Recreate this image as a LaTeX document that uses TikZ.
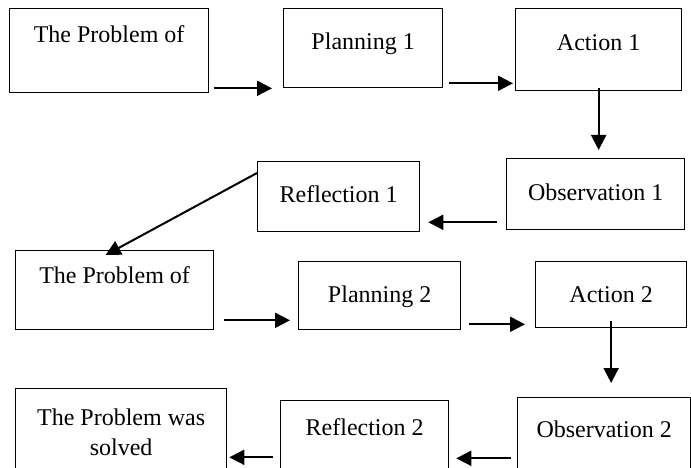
\documentclass[tikz,border=0pt]{standalone}
\usepackage{fontspec}
\setmainfont{Liberation Serif}
\usetikzlibrary{arrows.meta}

\begin{document}
\begin{tikzpicture}
  [x=1pt,y=-1pt,
   every node/.style={font=\fontsize{24}{30}\selectfont},
   stage/.style={draw,rectangle,line width=1.3pt,inner sep=0pt,anchor=north west},
   arr/.style={line width=2pt,-{Triangle[length=15pt,width=15pt]}}]
  \useasboundingbox (0,0) rectangle (691,468);
  % first cycle
  \node[stage,minimum width=199pt,text height=34pt,text depth=50pt] (prob1) at (9,8) {The Problem of};
  \node[stage,minimum width=159pt,text height=41pt,text depth=38pt] (plan1) at (283,8) {Planning 1};
  \node[stage,minimum width=166pt,text height=42pt,text depth=40pt] (act1) at (515,8) {Action 1};
  \node[stage,minimum width=178pt,text height=42pt,text depth=29pt] (obs1) at (506,158) {Observation 1};
  \node[stage,minimum width=162pt,text height=41pt,text depth=29pt] (refl1) at (257,161) {Reflection 1};
  % second cycle
  \node[stage,minimum width=198pt,text height=33pt,text depth=46pt] (prob2) at (15,250) {The Problem of};
  \node[stage,minimum width=162pt,text height=41pt,text depth=27pt] (plan2) at (298,261) {Planning 2};
  \node[stage,minimum width=151pt,text height=41pt,text depth=25pt] (act2) at (535,261) {Action 2};
  \node[stage,minimum width=173pt,text height=40pt,text depth=39pt] (obs2) at (517,397) {Observation 2};
  \node[stage,minimum width=168pt,text height=35pt,text depth=41pt] (refl2) at (280,400) {Reflection 2};
  \node[stage,minimum width=211pt,minimum height=88pt,align=center] (done) at (15,388) {The Problem was\\solved};

  \draw[arr] ([xshift=5pt,yshift=5pt]prob1.south east) -- ([xshift=-11pt]plan1.south west);
  \draw[arr] ([xshift=6pt,yshift=5pt]plan1.south east) -- ([xshift=-2pt,yshift=8pt]act1.south west);
  \draw[arr,shorten >=8pt] ([yshift=3pt]act1.south) -- (act1.south |- obs1.north);
  \draw[arr] ([xshift=-9pt,yshift=8pt]obs1.south west) -- ([xshift=8pt,yshift=10pt]refl1.south east);
  \draw[arr] ([yshift=-12pt]refl1.north west) -- ([xshift=-9pt,yshift=-5pt]prob2.north);
  \draw[arr] ([xshift=10pt,yshift=10pt]prob2.south east) -- ([xshift=-8pt,yshift=10pt]plan2.south west);
  \draw[arr] ([xshift=8pt,yshift=6pt]plan2.south east) -- ([xshift=-10pt,yshift=4pt]act2.south west);
  \draw[arr,shorten >=14pt] ([yshift=7pt]act2.south) -- (act2.south |- obs2.north);
  \draw[arr] ([xshift=-6pt,yshift=19pt]obs2.south west) -- ([xshift=7pt,yshift=19pt]refl2.south east);
  \draw[arr] ([xshift=-7pt,yshift=20pt]refl2.south west) -- ([xshift=2pt,yshift=20pt]done.south east);
\end{tikzpicture}
\end{document}
